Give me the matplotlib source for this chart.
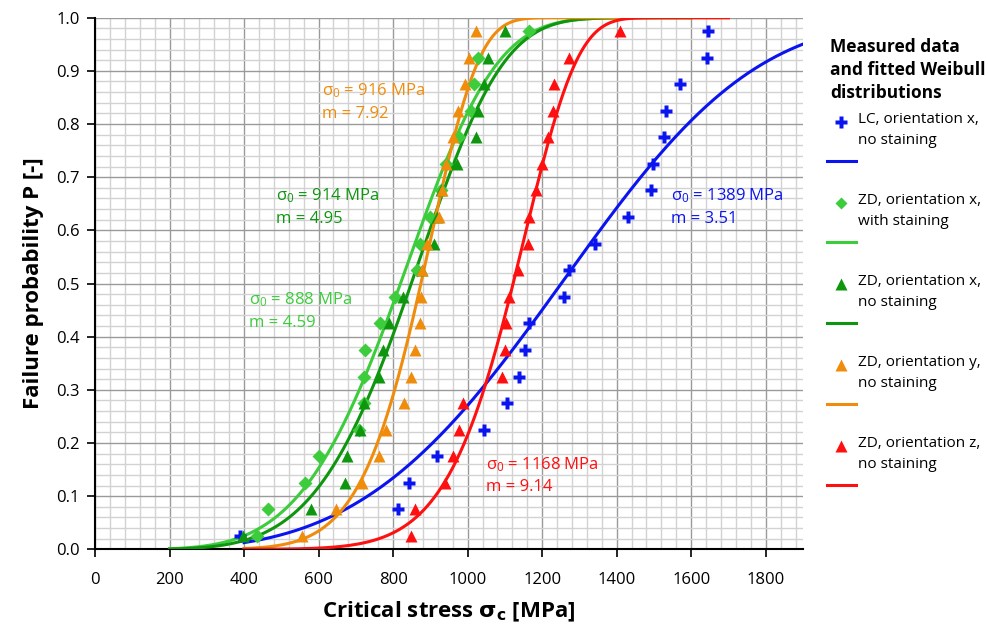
import numpy as np
import matplotlib
matplotlib.use("Agg")
import matplotlib.pyplot as plt
from matplotlib.lines import Line2D

plt.rcParams['font.family'] = ['Open Sans', 'DejaVu Sans']

# ---- data -------------------------------------------------------------
P_levels = [0.025, 0.075, 0.125, 0.175, 0.225, 0.275, 0.325, 0.375, 0.425, 0.475,
            0.525, 0.575, 0.625, 0.675, 0.725, 0.775, 0.825, 0.875, 0.925, 0.975]

lc_x = [389, 814, 843, 917, 1045, 1106, 1137, 1153, 1166, 1258,
        1273, 1342, 1430, 1493, 1498, 1528, 1532, 1569, 1642, 1645]
zdx_stain = [436, 464, 564, 602, 708, 722, 722, 725, 765, 805,
             864, 871, 899, 929, 941, 978, 1008, 1016, 1027, 1166]
zdx_nostain = [396, 579, 671, 676, 711, 722, 761, 774, 790, 826,
               877, 911, 918, 929, 971, 1023, 1029, 1045, 1056, 1101]
zdy_nostain = [555, 647, 716, 763, 781, 829, 847, 859, 871, 875,
               878, 890, 922, 931, 942, 962, 974, 993, 1005, 1023]
zdz_nostain = [848, 859, 940, 960, 977, 987, 1092, 1101, 1103, 1111,
               1135, 1161, 1166, 1183, 1199, 1215, 1230, 1232, 1271, 1409]

# Weibull fit parameters: (sigma0, m, curve start, curve end)
fits = {
    'lc':   (1389, 3.51, 400, 1900),
    'zdxs': (888, 4.59, 200, 1600),
    'zdxn': (914, 4.95, 200, 1600),
    'zdy':  (916, 7.92, 400, 1700),
    'zdz':  (1168, 9.14, 400, 1700),
}

labels = ['LC, orientation x,\nno staining',
          'ZD, orientation x,\nwith staining',
          'ZD, orientation x,\nno staining',
          'ZD, orientation y,\nno staining',
          'ZD, orientation z,\nno staining']

c_blue = '#0a14f0'
c_lgreen = '#3ccc3c'
c_dgreen = '#0f960f'
c_orange = '#f08c0c'
c_red = '#ff1010'

# ---- figure -------------------------------------------------------------
fig = plt.figure(figsize=(9.88, 6.26), dpi=100)
ax = fig.add_axes([95/988, 1-549.3/626, (803-95)/988, (549.3-17.7)/626])

ax.set_xlim(0, 1900)
ax.set_ylim(0, 1.0)
ax.set_xticks(np.arange(0, 1801, 200))
ax.set_xticks(np.arange(0, 1901, 40), minor=True)
ax.set_yticks(np.arange(0, 1.001, 0.1))
ax.set_yticks(np.arange(0, 1.001, 0.02), minor=True)
ax.set_yticklabels([f'{v:.1f}' for v in np.arange(0, 1.001, 0.1)])
ax.grid(which='minor', color='#d2d2d2', lw=1.0, zorder=0)
ax.grid(which='major', color='#9a9a9a', lw=1.0, zorder=0)
ax.set_axisbelow(True)
for s in ['top', 'right']:
    ax.spines[s].set_visible(False)
for s in ['left', 'bottom']:
    ax.spines[s].set_linewidth(1.5)
    ax.spines[s].set_color('black')
ax.tick_params(which='major', length=6, width=1.2, labelsize=12, colors='black',
               direction='out')
ax.tick_params(which='minor', length=0)
ax.tick_params(axis='x', pad=10)
ax.tick_params(axis='y', pad=5)

ax.set_xlabel(r'Critical stress $\mathbf{\sigma_c}$ [MPa]', fontsize=16, fontweight='bold', labelpad=9)
ax.set_ylabel('Failure probability P [-]', fontsize=16, fontweight='bold', labelpad=9)

def weib(key):
    s0, m, a, b = fits[key]
    x = np.linspace(a, b, 400)
    return x, 1 - np.exp(-(x / s0) ** m)

lw = 2.2
ax.plot(*weib('lc'), color=c_blue, lw=lw, zorder=3)
ax.plot(*weib('zdxs'), color=c_lgreen, lw=lw, zorder=3)
ax.plot(*weib('zdxn'), color=c_dgreen, lw=lw, zorder=3)
ax.plot(*weib('zdy'), color=c_orange, lw=lw, zorder=3)
ax.plot(*weib('zdz'), color=c_red, lw=lw, zorder=3)

ax.plot(lc_x, P_levels, ls='none', marker='P', ms=9, color=c_blue, mec='none', zorder=4)
ax.plot(zdx_stain, P_levels, ls='none', marker='D', ms=7, color=c_lgreen, mec='none', zorder=4)
ax.plot(zdx_nostain, P_levels, ls='none', marker='^', ms=9, color=c_dgreen, mec='none', zorder=4)
ax.plot(zdy_nostain, P_levels, ls='none', marker='^', ms=9, color=c_orange, mec='none', zorder=4)
ax.plot(zdz_nostain, P_levels, ls='none', marker='^', ms=9, color=c_red, mec='none', zorder=4)

# annotations
ann_fs = 12
def ann(x, y, s0, m, c):
    ax.text(x, y, r'$\mathregular{\sigma_0}$' + f' = {s0} MPa', color=c, fontsize=ann_fs,
            va='center', ha='left', zorder=5)
    ax.text(x, y - 0.043, f'm = {m}', color=c, fontsize=ann_fs, va='center', ha='left', zorder=5)

ann(610, 0.862, 916, '7.92', c_orange)
ann(485, 0.665, 914, '4.95', c_dgreen)
ann(412, 0.469, 888, '4.59', c_lgreen)
ann(1547, 0.665, 1389, '3.51', c_blue)
ann(1050, 0.160, 1168, '9.14', c_red)

# legend (manual)
fig.text(830/988, 1-38/626, 'Measured data\nand fitted Weibull\ndistributions',
         fontsize=12.5, fontweight='bold', va='top', ha='left', linespacing=1.35)
colors = [c_blue, c_lgreen, c_dgreen, c_orange, c_red]
markers = ['P', 'D', '^', '^', '^']
msz = [8, 6, 8, 8, 8]
for i in range(5):
    y0 = 122 + 81 * i
    fig.add_artist(Line2D([841/988], [1-y0/626], marker=markers[i], ms=msz[i],
                          color=colors[i], mec='none', ls='none', transform=fig.transFigure))
    fig.text(858/988, 1-(y0-10)/626, labels[i], fontsize=11, va='top', ha='left',
             linespacing=1.55)
    fig.add_artist(Line2D([827/988, 856/988], [1-(y0+39)/626]*2, color=colors[i], lw=2.2,
                          transform=fig.transFigure))

fig.savefig('out.png', dpi=100)
